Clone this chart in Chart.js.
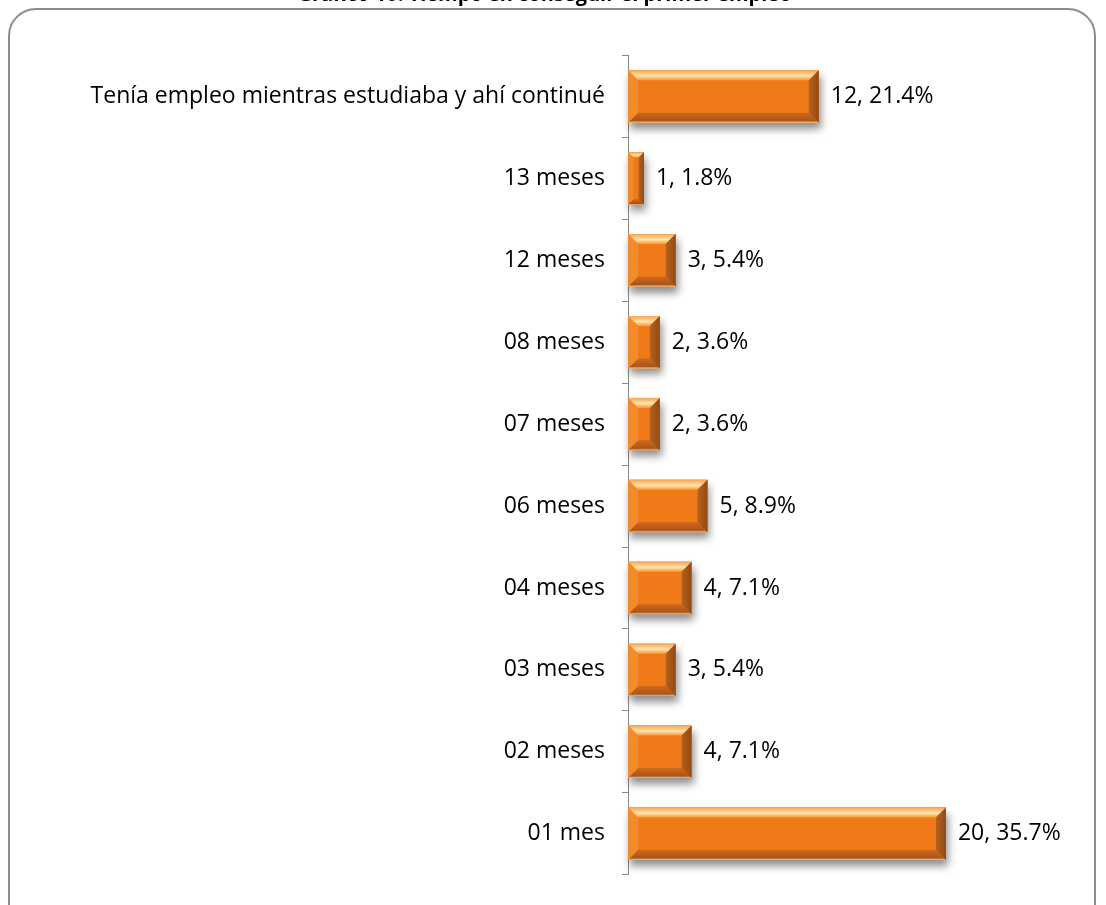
<!DOCTYPE html>
<html><head><meta charset="utf-8">
<script src="https://cdn.jsdelivr.net/npm/chart.js@4"></script>
<style>
html,body{margin:0;padding:0;background:#fff;overflow:hidden;width:1106px;height:905px;}
#frame{position:absolute;left:8px;top:8px;width:1088px;height:1000px;border:2px solid #8c8c8c;border-radius:28px;box-sizing:border-box;}
#wrap{position:absolute;left:0;top:-17.5px;width:1106px;height:922.5px;}
</style></head><body>
<div id="frame"></div>
<div id="wrap"><canvas id="c"></canvas></div>
<script>
const titleText = 'Gráfico 10. Tiempo en conseguir el primer empleo';
const categories = ['Tenía empleo mientras estudiaba y ahí continué','13 meses','12 meses','08 meses','07 meses','06 meses','04 meses','03 meses','02 meses','01 mes'];
const counts = [12, 1, 3, 2, 2, 5, 4, 3, 4, 20];
const percents = [21.4, 1.8, 5.4, 3.6, 3.6, 8.9, 7.1, 5.4, 7.1, 35.7];

const FONT = "'Open Sans', 'Noto Sans', sans-serif";

const bevelPlugin = {
  id: 'bevel',
  beforeDatasetsDraw(chart) {
    const ctx = chart.ctx;
    const meta = chart.getDatasetMeta(0);
    ctx.save();
    meta.data.forEach(el => {
      const L = Math.min(el.base, el.x), R = Math.max(el.base, el.x);
      const T = el.y - el.height / 2, B = el.y + el.height / 2;
      ctx.shadowColor = 'rgba(0,0,0,0.45)';
      ctx.shadowBlur = 8;
      ctx.shadowOffsetX = 2;
      ctx.shadowOffsetY = 6;
      ctx.fillStyle = '#999';
      ctx.fillRect(L, T, R - L, B - T);
    });
    ctx.restore();
  },
  afterDatasetsDraw(chart) {
    const ctx = chart.ctx;
    const meta = chart.getDatasetMeta(0);
    ctx.save();
    meta.data.forEach((el, i) => {
      const L = Math.min(el.base, el.x), R = Math.max(el.base, el.x);
      const T = el.y - el.height / 2, B = el.y + el.height / 2;
      const b = Math.min(10, (R - L) / 3);
      const poly = (pts, fill) => {
        ctx.beginPath();
        ctx.moveTo(pts[0][0], pts[0][1]);
        for (let k = 1; k < pts.length; k++) ctx.lineTo(pts[k][0], pts[k][1]);
        ctx.closePath();
        ctx.fillStyle = fill;
        ctx.fill();
      };
      const gt = ctx.createLinearGradient(0, T, 0, T + b);
      gt.addColorStop(0, '#F7A453');
      gt.addColorStop(0.55, '#FFE4AA');
      gt.addColorStop(1, '#F59A3E');
      poly([[L, T], [R, T], [R - b, T + b], [L + b, T + b]], gt);
      const gb = ctx.createLinearGradient(0, B - b, 0, B);
      gb.addColorStop(0, '#D0691A');
      gb.addColorStop(0.8, '#A9551A');
      gb.addColorStop(1, '#F3C88F');
      poly([[L, B], [R, B], [R - b, B - b], [L + b, B - b]], gb);
      const gr = ctx.createLinearGradient(R - b, 0, R, 0);
      gr.addColorStop(0, '#B8621C');
      gr.addColorStop(1, '#8E4A17');
      poly([[R, T], [R, B], [R - b, B - b], [R - b, T + b]], gr);
      poly([[L, T], [L, B], [L + b, B - b], [L + b, T + b]], '#F28A2E');
      ctx.fillStyle = '#000';
      ctx.font = '23px ' + FONT;
      ctx.textAlign = 'left';
      ctx.textBaseline = 'middle';
      ctx.fillText(counts[i] + ', ' + percents[i].toFixed(1) + '%', R + 12, el.y);
    });
    ctx.restore();
  }
};

new Chart(document.getElementById('c'), {
  type: 'bar',
  data: {
    labels: categories,
    datasets: [{
      data: counts,
      backgroundColor: '#EF7A17',
      borderWidth: 0,
      barPercentage: 0.64,
      categoryPercentage: 1.0
    }]
  },
  options: {
    indexAxis: 'y',
    responsive: true,
    maintainAspectRatio: false,
    animation: false,
    layout: { padding: { top: 0, bottom: 30, left: 0, right: 17 } },
    plugins: {
      legend: { display: false },
      tooltip: { enabled: false },
      title: {
        display: true,
        text: titleText,
        color: '#000',
        font: { family: FONT, size: 20, weight: 'bold', lineHeight: 1.2 },
        padding: { top: 0, bottom: 48.5 }
      }
    },
    scales: {
      x: { display: false, min: 0, max: 29 },
      y: {
        type: 'category',
        grid: { offset: true, drawOnChartArea: false, tickLength: 6, color: '#888', lineWidth: 1 },
        border: { color: '#888', width: 1 },
        ticks: { padding: 17, color: '#000', font: { family: FONT, size: 23 } },
        afterFit(s) { s.width = 628; }
      }
    }
  },
  plugins: [bevelPlugin]
});
</script>
</body></html>
